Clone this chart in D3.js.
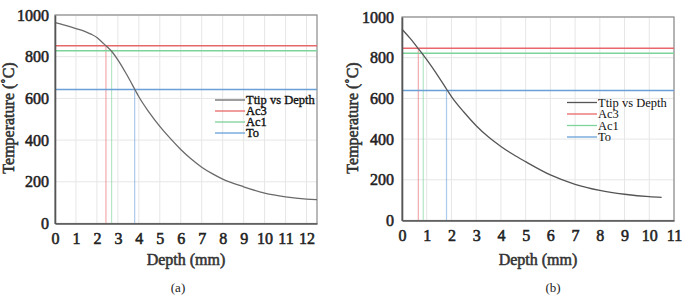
<!DOCTYPE html>
<html>
<head>
<meta charset="utf-8">
<script src="https://cdn.jsdelivr.net/npm/d3@7/dist/d3.min.js"></script>
<style>
  body { margin: 0; background: #fff; }
  text { font-family: "Liberation Serif", "Times New Roman", serif; font-weight: normal; }
</style>
</head>
<body>
<div id="chart"></div>
<script>
// panel (a) curve
var depthA = [0, 0.5, 1, 1.5, 1.75, 2, 2.2, 2.43, 2.7, 3, 3.4, 3.8, 4, 4.5, 5, 5.5, 6, 6.5, 7, 7.5, 8, 9, 10, 11, 12, 12.5];
var tempA  = [963, 950, 935, 918, 907, 892, 874, 853, 826, 785, 718, 645, 608, 532, 466, 408, 355, 309, 270, 239, 213, 176, 146, 128, 117, 114];
// panel (b) curve
var depthB = [0, 0.33, 0.67, 1, 1.5, 1.83, 2, 2.5, 3, 3.5, 4, 4.5, 5, 6, 7, 8, 9, 10, 10.5];
var tempB  = [940, 895, 843, 790, 702, 640, 609, 533, 466, 410, 364, 324, 289, 224, 178, 148, 129, 117, 114];

var seriesNames = ["Ttip vs Depth", "Ac3", "Ac1", "To"];
var seriesColors = ["#6a6a6a", "#e8686a", "#7dd39a", "#6a9fd8"];

// threshold temperatures and where the curve crosses them
var thrTempA = [852, 828, 643];
var thrDepthA = [2.43, 2.7, 3.8];
var thrTempB = [847, 822, 639];
var thrDepthB = [0.66, 0.86, 1.8];

var yTicks = [0, 200, 400, 600, 800, 1000];
var xTicksA = [0, 1, 2, 3, 4, 5, 6, 7, 8, 9, 10, 11, 12];
var xTicksB = [0, 1, 2, 3, 4, 5, 6, 7, 8, 9, 10, 11];

var svg = d3.select("#chart").append("svg")
    .attr("width", 685)
    .attr("height", 298)
    .style("background", "#fff");

// bold look: regular serif with a thin stroke
function boldish(sel, color) {
  sel.attr("fill", color).attr("stroke", color).attr("stroke-width", 0.55);
}

function drawPanel(p) {
  var x = d3.scaleLinear().domain([0, p.xMax]).range([p.left, p.right]);
  var y = d3.scaleLinear().domain([0, 1000]).range([p.bottom, p.top]);
  var g = svg.append("g");

  // grid
  g.selectAll(".vg").data(p.xTicks).enter().append("line")
    .attr("x1", d => x(d)).attr("x2", d => x(d))
    .attr("y1", p.top).attr("y2", p.bottom)
    .attr("stroke", "#e6e6e6").attr("stroke-width", 1);
  g.selectAll(".hg").data(yTicks).enter().append("line")
    .attr("x1", p.left).attr("x2", p.right)
    .attr("y1", d => y(d)).attr("y2", d => y(d))
    .attr("stroke", "#e6e6e6").attr("stroke-width", 1);

  // frame
  g.append("rect")
    .attr("x", p.left).attr("y", p.top)
    .attr("width", p.right - p.left).attr("height", p.bottom - p.top)
    .attr("fill", "none").attr("stroke", "#8a8a8a").attr("stroke-width", 1.2);

  // threshold lines
  p.thrTemp.forEach(function(t, i) {
    g.append("line")
      .attr("x1", p.left).attr("x2", p.right)
      .attr("y1", y(t)).attr("y2", y(t))
      .attr("stroke", seriesColors[i + 1]).attr("stroke-width", 1.5);
    g.append("line")
      .attr("x1", x(p.thrDepth[i])).attr("x2", x(p.thrDepth[i]))
      .attr("y1", y(t)).attr("y2", p.bottom)
      .attr("stroke", seriesColors[i + 1]).attr("stroke-width", 1.2)
      .attr("opacity", 0.55);
  });

  // curve
  var line = d3.line().x(d => x(d[0])).y(d => y(d[1])).curve(d3.curveMonotoneX);
  g.append("path")
    .datum(p.depth.map((d, i) => [d, p.temp[i]]))
    .attr("d", line)
    .attr("fill", "none")
    .attr("stroke", p.curveColor)
    .attr("stroke-width", 1.3);

  // axes
  var xAxis = g.append("g")
    .attr("transform", "translate(0," + p.bottom + ")")
    .call(d3.axisBottom(x).tickValues(p.xTicks).tickFormat(d3.format("d")).tickSize(0).tickPadding(9));
  var yAxis = g.append("g")
    .attr("transform", "translate(" + p.left + ",0)")
    .call(d3.axisLeft(y).tickValues(yTicks).tickFormat(d3.format("d")).tickSize(0).tickPadding(p.yPad));
  [xAxis, yAxis].forEach(function(a) {
    a.attr("font-family", null).attr("font-size", null);
    a.select(".domain").attr("stroke", "#555").attr("stroke-width", 1.6);
    a.selectAll("text").style("font-size", "16px").call(boldish, "#222");
  });

  // axis titles
  g.append("text")
    .attr("x", (p.left + p.right) / 2).attr("y", 265)
    .attr("text-anchor", "middle")
    .style("font-size", "16px")
    .call(boldish, "#333")
    .text("Depth (mm)");
  g.append("text")
    .attr("transform", "translate(" + p.yTitleX + ",118) rotate(-90)")
    .attr("text-anchor", "middle")
    .style("font-size", "16px")
    .call(boldish, "#333")
    .text("Temperature (˚C)");

  // panel label
  g.append("text")
    .attr("x", p.labelX).attr("y", 292)
    .attr("text-anchor", "middle")
    .style("font-size", "13px").attr("fill", "#222")
    .text(p.label);

  // legend
  var leg = g.append("g").attr("transform", "translate(" + p.legX + "," + p.legY + ")");
  seriesNames.forEach(function(n, i) {
    leg.append("line")
      .attr("x1", 0).attr("x2", 30)
      .attr("y1", i * p.legStep).attr("y2", i * p.legStep)
      .attr("stroke", i === 0 ? p.curveColor : seriesColors[i]).attr("stroke-width", 1.3);
    leg.append("text")
      .attr("x", 31).attr("y", i * p.legStep + 4)
      .style("font-size", "12.5px")
      .call(boldish, "#111").attr("stroke-width", p.legBold)
      .text(n);
  });
}

drawPanel({
  left: 55, right: 317, top: 15, bottom: 223.5, xMax: 12.5,
  xTicks: xTicksA, depth: depthA, temp: tempA,
  thrTemp: thrTempA, thrDepth: thrDepthA,
  curveColor: "#6a6a6a", yPad: 6, yTitleX: 14,
  label: "(a)", labelX: 178,
  legX: 215, legY: 100, legStep: 11, legBold: 0.35
});

drawPanel({
  left: 402, right: 674, top: 17, bottom: 220.5, xMax: 11,
  xTicks: xTicksB, depth: depthB, temp: tempB,
  thrTemp: thrTempB, thrDepth: thrDepthB,
  curveColor: "#555", yPad: 8, yTitleX: 358,
  label: "(b)", labelX: 553,
  legX: 567, legY: 102.5, legStep: 11.5, legBold: 0
});
</script>
</body>
</html>
